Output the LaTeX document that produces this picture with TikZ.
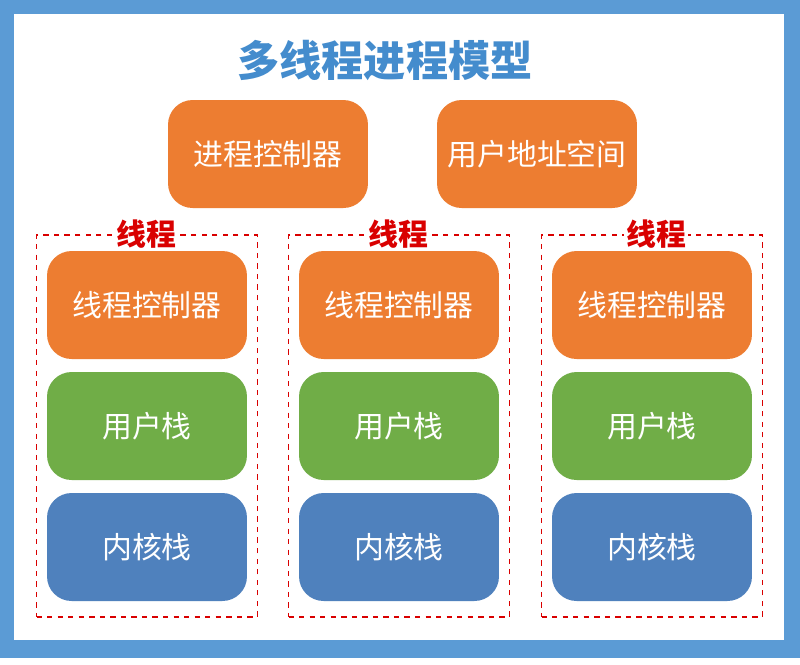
\documentclass[tikz,border=0pt]{standalone}
\usepackage{fontspec}
\newfontfamily\cjk{Noto Sans CJK SC}
\usetikzlibrary{positioning}
\definecolor{frameblue}{RGB}{91,155,213}
\definecolor{boxorange}{RGB}{237,125,49}
\definecolor{boxgreen}{RGB}{112,173,71}
\definecolor{boxblue}{RGB}{79,129,189}
\definecolor{titleblue}{RGB}{68,140,205}
\tikzset{
  block/.style={rounded corners=14pt, minimum width=4cm, minimum height=2.16cm,
    text=white, font=\cjk\fontsize{17}{20}\selectfont, inner sep=0pt},
  threadbox/.style={draw=red!85!black, dashed, thick, minimum width=4.42cm, minimum height=7.64cm},
  threadlabel/.style={text=red!85!black, font=\cjk\bfseries\fontsize{17}{20}\selectfont, fill=white, inner sep=1pt}
}
\begin{document}
\begin{tikzpicture}[x=0.02cm,y=-0.02cm]
			\useasboundingbox (0,0) rectangle (800,664);
			% outer frame
			\fill[frameblue] (0,0) rectangle (800,658);
			\fill[white] (14,14) rectangle (784,640);
			
			\node[text=titleblue, font=\cjk\bfseries\fontsize{24}{28}\selectfont] (title) at (385,60) {多线程进程模型};
			
			% process level
			\node[block, fill=boxorange] (pcb) at (268,154) {进程控制器};
			\node[block, fill=boxorange] (addr) at (537,154) {用户地址空间};
			
			% threads
			\foreach \i/\x/\lx in {1/147/146, 2/399/398, 3/652/656} {
				\node[threadbox] (t\i) at (\x,426) {};
				\node[threadlabel] (tl\i) at (\lx,234) {线程};
				\node[block, fill=boxorange] (tcb\i) at (\x,305) {线程控制器};
				\node[block, fill=boxgreen] (us\i) at (\x,426) {用户栈};
				\node[block, fill=boxblue] (ks\i) at (\x,547) {内核栈};
			}
		\end{tikzpicture}
\end{document}
